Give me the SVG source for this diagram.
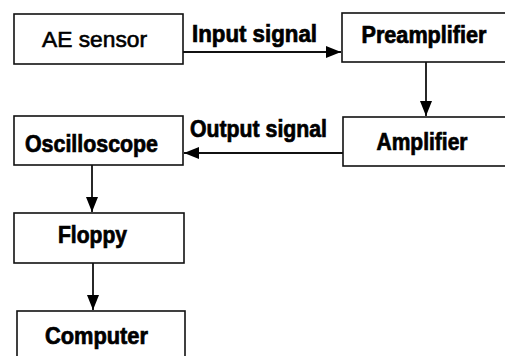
<svg xmlns="http://www.w3.org/2000/svg" width="505" height="356" viewBox="0 0 505 356">
<style>
.box{fill:#fff;stroke:#111;stroke-width:1.6}
.t{font-family:"Liberation Sans",Arial,sans-serif;font-weight:bold;font-size:23px;fill:#000;stroke:#000;stroke-width:0.7;text-anchor:middle}
.tn{font-family:"Liberation Sans",Arial,sans-serif;font-size:22px;fill:#000;stroke:#000;stroke-width:0.6;text-anchor:middle}
.c{stroke:#111;stroke-width:1.8;fill:none}
</style>
<defs>
<marker id="ah" markerWidth="16" markerHeight="12" refX="15" refY="6" orient="auto" markerUnits="userSpaceOnUse">
<path d="M0,0 L15,6 L0,12 Z" fill="#000"/>
</marker>
</defs>
<rect width="505" height="356" fill="#fff"/>
<g id="connectors">
<line class="c" x1="183" y1="52" x2="341" y2="52" marker-end="url(#ah)"/>
<line class="c" x1="426" y1="62" x2="426" y2="116" marker-end="url(#ah)"/>
<line class="c" x1="343" y1="153" x2="184" y2="153" marker-end="url(#ah)"/>
<line class="c" x1="92" y1="165" x2="92" y2="212" marker-end="url(#ah)"/>
<line class="c" x1="93" y1="263" x2="93" y2="310" marker-end="url(#ah)"/>
<text class="t" x="254.5" y="42" textLength="125" lengthAdjust="spacingAndGlyphs">Input signal</text>
<text class="t" x="258.5" y="137" textLength="137" lengthAdjust="spacingAndGlyphs">Output signal</text>
</g>
<g id="ae-sensor">
<rect class="box" x="14" y="14" width="169" height="50"/>
<text class="tn" x="94.5" y="47" textLength="105" lengthAdjust="spacingAndGlyphs">AE sensor</text>
</g>
<g id="preamplifier">
<rect class="box" x="342" y="13" width="170" height="49"/>
<text class="t" x="424" y="43" textLength="125" lengthAdjust="spacingAndGlyphs">Preamplifier</text>
</g>
<g id="amplifier">
<rect class="box" x="343" y="117" width="170" height="49"/>
<text class="t" x="422" y="150" textLength="91" lengthAdjust="spacingAndGlyphs">Amplifier</text>
</g>
<g id="oscilloscope">
<rect class="box" x="14" y="116" width="169" height="49"/>
<text class="t" x="91.5" y="152" textLength="133" lengthAdjust="spacingAndGlyphs">Oscilloscope</text>
</g>
<g id="floppy">
<rect class="box" x="14" y="213" width="170" height="50"/>
<text class="t" x="92.5" y="243" textLength="69" lengthAdjust="spacingAndGlyphs">Floppy</text>
</g>
<g id="computer">
<rect class="box" x="17" y="311" width="168" height="60"/>
<text class="t" x="96.5" y="344" textLength="103" lengthAdjust="spacingAndGlyphs">Computer</text>
</g>
</svg>
